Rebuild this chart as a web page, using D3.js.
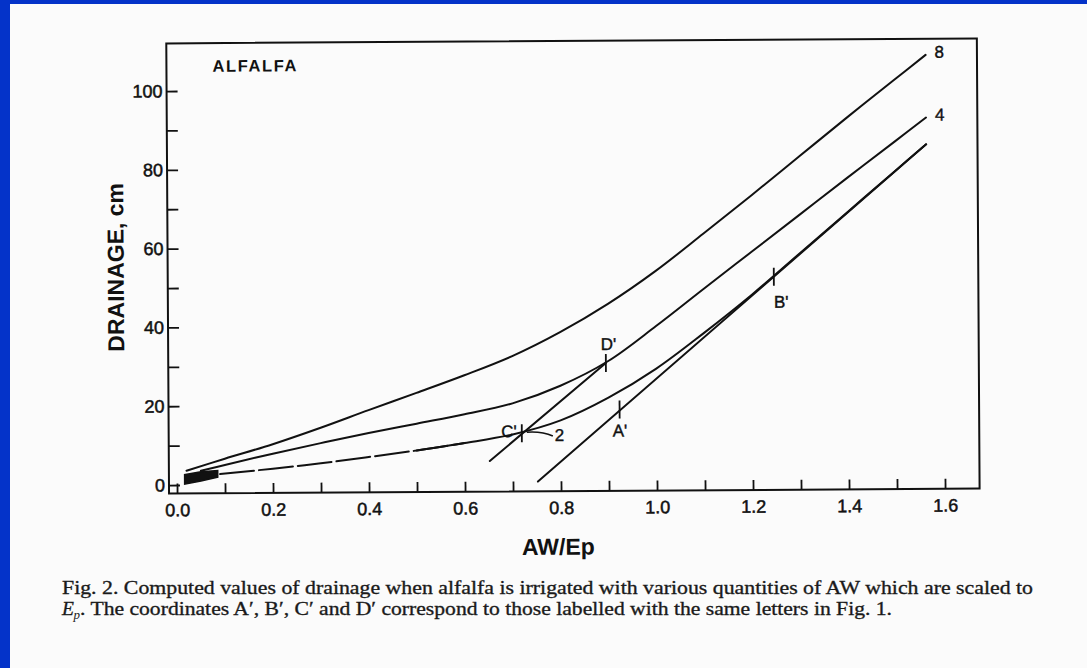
<!DOCTYPE html>
<html><head><meta charset="utf-8">
<script src="https://cdn.jsdelivr.net/npm/d3@7"></script>
<style>
html,body{margin:0;padding:0;background:#fbfbfb;}
svg{display:block;}
</style></head>
<body>
<svg id="c" width="1087" height="668"></svg>
<script>
// ---------------- data ----------------
const xTicks = [0,0.1,0.2,0.3,0.4,0.5,0.6,0.7,0.8,0.9,1.0,1.1,1.2,1.3,1.4,1.5,1.6];
const xTickLabels = ["0.0","","0.2","","0.4","","0.6","","0.8","","1.0","","1.2","","1.4","","1.6"];
const yTicks = [0,10,20,30,40,50,60,70,80,90,100];
const yTickLabels = ["0","","20","","40","","60","","80","","100"];

// drainage (cm) vs AW/Ep, curve labelled 8
const curve8 = [[0.02,3.6],[0.1,6.6],[0.2,10.2],[0.3,14.3],[0.4,18.7],[0.5,23.0],[0.6,27.4],[0.7,32.2],[0.8,38.2],[0.9,45.3],[1.0,53.6],[1.1,63.0],[1.2,72.6],[1.3,82.4],[1.4,92.2],[1.5,101.8],[1.565,108.0]];
// curve labelled 4
const curve4 = [[0.05,3.6],[0.1,5.0],[0.2,7.8],[0.3,10.4],[0.4,12.9],[0.5,15.2],[0.6,17.5],[0.7,20.2],[0.8,24.6],[0.9,30.8],[1.0,39.6],[1.1,49.0],[1.2,58.3],[1.3,67.6],[1.4,76.9],[1.5,86.1],[1.565,92.1]];
// curve labelled 2
const curve2 = [[0.09,2.7],[0.2,4.0],[0.3,5.3],[0.4,6.8],[0.5,8.4],[0.6,10.2],[0.7,12.3],[0.8,15.8],[0.9,21.5],[1.0,28.8],[1.1,37.8],[1.2,47.4],[1.3,57.8],[1.4,68.2],[1.5,78.6],[1.565,85.3]];
// straight line through A' and B'
const lineAB = [[0.752,0.3],[1.565,85.3]];
// straight line through C' and D'
const lineCD = [[0.652,5.6],[0.895,30.3]];
// converging curves near the origin (solid wedge)
const blob = [[0.016,0.2],[0.016,2.6],[0.05,3.3],[0.085,3.6],[0.085,1.9],[0.05,1.0]];
// marked coordinates
const pointNames = ["C'","D'","A'","B'"];
const pointX = [0.719,0.895,0.923,1.246];
const pointY = [12.6,30.3,18.5,51.9];
const curveNames = ["8","4"];

const title = "ALFALFA";
const xTitle = "AW/Ep";
const yTitle = "DRAINAGE, cm";
const caption1 = "Fig. 2. Computed values of drainage when alfalfa is irrigated with various quantities of AW which are scaled to";
const caption2 = ". The coordinates A\u2032, B\u2032, C\u2032 and D\u2032 correspond to those labelled with the same letters in Fig. 1.";

// ---------------- drawing ----------------
const W = 1087, H = 668;
const svg = d3.select("#c");
svg.append("rect").attr("width", W).attr("height", H).attr("fill", "#fbfbfb");
svg.append("rect").attr("x", 0).attr("y", 0).attr("width", 10).attr("height", H).attr("fill", "#0433c9");
svg.append("rect").attr("x", 0).attr("y", 0).attr("width", W).attr("height", 4).attr("fill", "#0433c9");

const x = d3.scaleLinear().domain([0, 1.6]).range([177, 945]);
const y = d3.scaleLinear().domain([0, 100]).range([485, 91]);
const xMin = -0.0167, xMax = 1.672, yMin = -2.16, yMax = 112.1;

const g = svg.append("g").attr("transform", "rotate(-0.35,177,485)");
const ink = "#111";
const sans = "'Liberation Sans', Arial, Helvetica, sans-serif";

// frame
g.append("rect")
  .attr("x", x(xMin)).attr("y", y(yMax))
  .attr("width", x(xMax) - x(xMin)).attr("height", y(yMin) - y(yMax))
  .attr("fill", "none").attr("stroke", ink).attr("stroke-width", 2);

// x axis
const gx = g.append("g").attr("transform", `translate(0,${y(yMin)})`)
  .call(d3.axisBottom(x).tickValues(xTicks).tickSize(-10).tickPadding(10)
        .tickFormat((d, i) => xTickLabels[i]));
gx.select(".domain").remove();
gx.selectAll("line").attr("stroke", ink).attr("stroke-width", 1.8);
gx.selectAll("text").attr("font-family", sans).attr("font-size", 18)
  .attr("fill", ink).attr("stroke", ink).attr("stroke-width", 0.5);

// y axis
const gy = g.append("g").attr("transform", `translate(${x(xMin)},0)`)
  .call(d3.axisLeft(y).tickValues(yTicks).tickSize(-11).tickPadding(4)
        .tickFormat((d, i) => yTickLabels[i]));
gy.select(".domain").remove();
gy.selectAll("line").attr("stroke", ink).attr("stroke-width", 1.8);
gy.selectAll("text").attr("font-family", sans).attr("font-size", 18)
  .attr("fill", ink).attr("stroke", ink).attr("stroke-width", 0.5);

// curves
const line = d3.line().x(d => x(d[0])).y(d => y(d[1])).curve(d3.curveCatmullRom.alpha(0.5));
const straight = d3.line().x(d => x(d[0])).y(d => y(d[1]));
function drawPath(data, gen, dash) {
  g.append("path").datum(data).attr("d", gen)
    .attr("fill", "none").attr("stroke", ink).attr("stroke-width", 2)
    .attr("stroke-linecap", "round").attr("stroke-dasharray", dash || null);
}
drawPath(curve8, line);
drawPath(curve4, line);
drawPath(curve2.filter(d => d[0] <= 0.6), line, "34,5");
drawPath(curve2.filter(d => d[0] >= 0.5), line);
drawPath(lineAB, straight);
drawPath(lineCD, straight);
g.append("path").datum(blob).attr("d", d3.line().x(d => x(d[0])).y(d => y(d[1])).curve(d3.curveLinearClosed))
  .attr("fill", ink).attr("stroke", ink).attr("stroke-width", 1.5);

// curve end labels
[curve8, curve4].forEach((c, i) => {
  const e = c[c.length - 1];
  g.append("text").attr("x", x(e[0]) + 9).attr("y", y(e[1]) + 3)
    .attr("font-family", sans).attr("font-size", 17).attr("fill", ink)
    .attr("stroke", ink).attr("stroke-width", 0.4).text(curveNames[i]);
});

// marked points
const labelDx = [-5, -5, -7, 0];
const labelDy = [4, -13, 27, 31];
const labelAnchor = ["end", "start", "start", "start"];
pointNames.forEach((n, i) => {
  const px = x(pointX[i]), py = y(pointY[i]);
  g.append("line").attr("x1", px).attr("x2", px).attr("y1", py - 9).attr("y2", py + 9)
    .attr("stroke", ink).attr("stroke-width", 1.8);
  g.append("text").attr("x", px + labelDx[i]).attr("y", py + labelDy[i])
    .attr("text-anchor", labelAnchor[i])
    .attr("font-family", sans).attr("font-size", 17).attr("fill", ink)
    .attr("stroke", ink).attr("stroke-width", 0.4).text(n);
});
// label "2" with its leader from C'
{
  const px = x(pointX[0]), py = y(pointY[0]);
  g.append("path").attr("d", `M${px + 5},${py - 1} Q${px + 20},${py - 2} ${px + 31},${py + 3}`)
    .attr("fill", "none").attr("stroke", ink).attr("stroke-width", 1.6);
  g.append("text").attr("x", px + 33).attr("y", py + 8)
    .attr("font-family", sans).attr("font-size", 17).attr("fill", ink)
    .attr("stroke", ink).attr("stroke-width", 0.4).text("2");
}

// titles
g.append("text").attr("x", 215).attr("y", 72).attr("font-family", sans)
  .attr("font-weight", "bold").attr("font-size", 16.5).attr("letter-spacing", 1.6)
  .attr("fill", ink).text(title);
g.append("text").attr("x", 558).attr("y", 557).attr("text-anchor", "middle")
  .attr("font-family", sans).attr("font-weight", "bold").attr("font-size", 23)
  .attr("fill", ink).text(xTitle);
g.append("text").attr("transform", "translate(125,267) rotate(-90)").attr("text-anchor", "middle")
  .attr("font-family", sans).attr("font-weight", "bold").attr("font-size", 23)
  .attr("fill", ink).text(yTitle);

// caption
const serif = "'Liberation Serif', 'Times New Roman', Times, serif";
svg.append("text").attr("x", 62).attr("y", 594).attr("font-family", serif)
  .attr("font-size", 19.5).attr("fill", "#1a1a1a").attr("stroke", "#1a1a1a").attr("stroke-width", 0.35)
  .attr("textLength", 971).attr("lengthAdjust", "spacingAndGlyphs").text(caption1);
svg.append("text").attr("x", 62).attr("y", 614.5).attr("font-family", serif)
  .attr("font-size", 19.5).attr("font-style", "italic").attr("fill", "#1a1a1a")
  .attr("stroke", "#1a1a1a").attr("stroke-width", 0.35).text("E");
svg.append("text").attr("x", 73.5).attr("y", 619).attr("font-family", serif)
  .attr("font-size", 13).attr("font-style", "italic").attr("fill", "#1a1a1a").text("p");
svg.append("text").attr("x", 80).attr("y", 614.5).attr("font-family", serif)
  .attr("font-size", 19.5).attr("fill", "#1a1a1a").attr("stroke", "#1a1a1a").attr("stroke-width", 0.35)
  .attr("textLength", 812).attr("lengthAdjust", "spacingAndGlyphs").text(caption2);
</script>
</body></html>
